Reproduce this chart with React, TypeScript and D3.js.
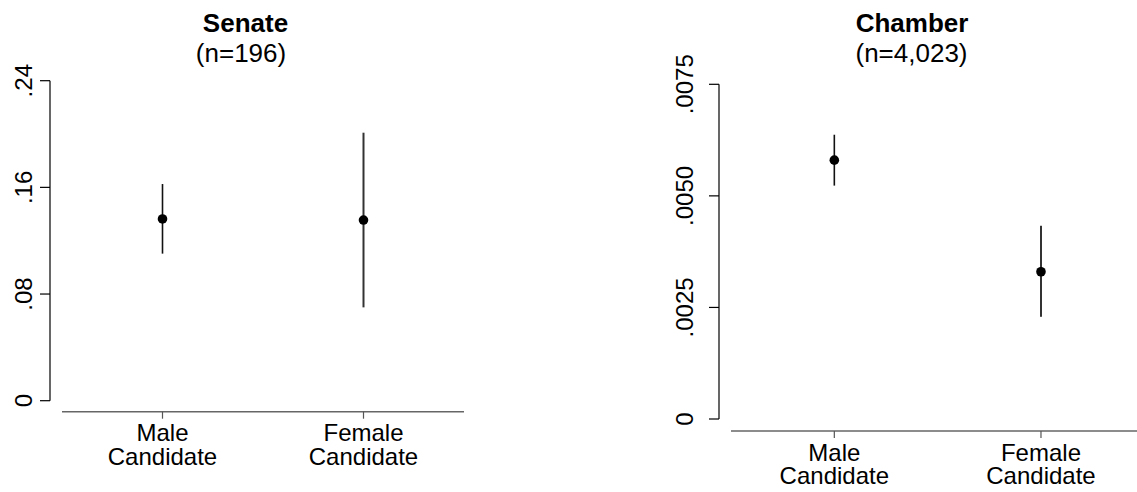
import React from "react";
import * as d3 from "d3";

// categories on the x axis (each split in two lines like the original)
const categories = ["Male Candidate", "Female Candidate"];
const categoryLines = [
  ["Male", "Candidate"],
  ["Female", "Candidate"],
];

// Senate panel
const senateTitle = "Senate";
const senateN = "(n=196)";
const senateEstimate = [0.1363, 0.1355];
const senateLower = [0.1103, 0.07];
const senateUpper = [0.1625, 0.201];
const senateTicks = [0, 0.08, 0.16, 0.24];
const senateTickLabels = ["0", ".08", ".16", ".24"];

// Chamber panel
const chamberTitle = "Chamber";
const chamberN = "(n=4,023)";
const chamberEstimate = [0.0058, 0.0033];
const chamberLower = [0.00523, 0.00229];
const chamberUpper = [0.00637, 0.00433];
const chamberTicks = [0, 0.0025, 0.005, 0.0075];
const chamberTickLabels = ["0", ".0025", ".0050", ".0075"];

const FONT = "'Liberation Sans', Arial, Helvetica, sans-serif";

type PanelProps = {
  title: string;
  n: string;
  est: number[];
  lo: number[];
  hi: number[];
  ticks: number[];
  tickLabels: string[];
  // layout
  yAxisX: number;
  yTop: number;
  yBottom: number;
  xAxisY: number;
  xStart: number;
  xEnd: number;
  labelX: number;
  titleX: number;
  nX: number;
};

function Panel(p: PanelProps) {
  const yMax = p.ticks[p.ticks.length - 1];
  const y = d3.scaleLinear().domain([0, yMax]).range([p.yBottom, p.yTop]);
  const x = d3.scalePoint<string>().domain(categories).range([p.xStart, p.xEnd]).padding(0.5);

  return (
    <g fontFamily={FONT}>
      {/* title */}
      <text x={p.titleX} y={32} textAnchor="middle" fontSize={26} fontWeight="bold">
        {p.title}
      </text>
      <text x={p.nX} y={62} textAnchor="middle" fontSize={26}>
        {p.n}
      </text>

      {/* y axis */}
      <line x1={p.yAxisX} x2={p.yAxisX} y1={y(0)} y2={y(yMax)} stroke="#000" strokeWidth={1.2} />
      {p.ticks.map((t, i) => (
        <g key={i}>
          <line x1={p.yAxisX - 10} x2={p.yAxisX} y1={y(t)} y2={y(t)} stroke="#000" strokeWidth={1.2} />
          <text
            transform={`translate(${p.labelX},${y(t)}) rotate(-90)`}
            textAnchor="middle"
            fontSize={24}
          >
            {p.tickLabels[i]}
          </text>
        </g>
      ))}

      {/* x axis */}
      <line x1={p.xStart} x2={p.xEnd} y1={p.xAxisY} y2={p.xAxisY} stroke="#666" strokeWidth={1.6} />
      {categories.map((c, i) => (
        <g key={c}>
          <line x1={x(c)} x2={x(c)} y1={p.xAxisY} y2={p.xAxisY + 7} stroke="#555" strokeWidth={1.2} />
          {categoryLines[i].map((s, j) => (
            <text key={j} x={x(c)} y={p.xAxisY + 29.5 + j * 23.3} textAnchor="middle" fontSize={24}>
              {s}
            </text>
          ))}
        </g>
      ))}

      {/* error bars and points */}
      {categories.map((c, i) => (
        <g key={c}>
          <line
            x1={x(c)}
            x2={x(c)}
            y1={y(p.lo[i])}
            y2={y(p.hi[i])}
            stroke={i === 0 ? "#111" : "#333"}
            strokeWidth={i === 0 ? 1.6 : 2}
          />
          <circle cx={x(c)} cy={y(p.est[i])} r={4.8} fill="#000" />
        </g>
      ))}
    </g>
  );
}

export default function App() {
  return (
    <svg
      width={1137}
      height={492}
      style={{ position: "absolute", left: 0, top: 0, background: "#fff" }}
    >
      <rect width={1137} height={492} fill="#fff" />
      <Panel
        title={senateTitle}
        n={senateN}
        est={senateEstimate}
        lo={senateLower}
        hi={senateUpper}
        ticks={senateTicks}
        tickLabels={senateTickLabels}
        yAxisX={50}
        yTop={80.7}
        yBottom={400.7}
        xAxisY={411.7}
        xStart={62}
        xEnd={464}
        labelX={32}
        titleX={245.5}
        nX={241}
      />
      <Panel
        title={chamberTitle}
        n={chamberN}
        est={chamberEstimate}
        lo={chamberLower}
        hi={chamberUpper}
        ticks={chamberTicks}
        tickLabels={chamberTickLabels}
        yAxisX={719}
        yTop={84.3}
        yBottom={419}
        xAxisY={431}
        xStart={731}
        xEnd={1144.3}
        labelX={693}
        titleX={912}
        nX={911.5}
      />
    </svg>
  );
}
